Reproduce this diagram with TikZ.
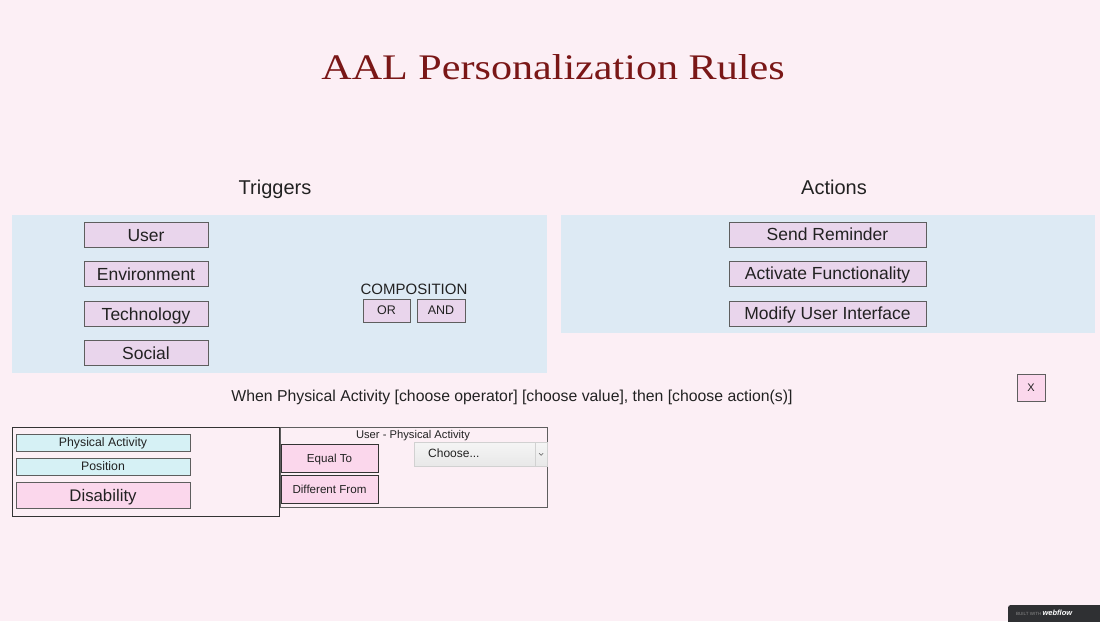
\documentclass[tikz,border=0pt]{standalone}
\usepackage{fontspec}
\usepackage{graphicx}
\setmainfont{Liberation Sans}
\newfontfamily\titlefont{Liberation Serif}
\newcommand\fsz[1]{\fontsize{#1}{#1}\selectfont}
\definecolor{pagebg}{HTML}{FCEFF5}
\definecolor{panelblue}{HTML}{DDEAF4}
\definecolor{lilac}{HTML}{E9D5EC}
\definecolor{pinkbtn}{HTML}{FBD7EC}
\definecolor{cyanbtn}{HTML}{D6F1F5}
\definecolor{edgegray}{HTML}{5E5E5E}
\definecolor{edgedark}{HTML}{333333}
\definecolor{inktext}{HTML}{222222}
\definecolor{titlered}{HTML}{7A1717}
\definecolor{badge}{HTML}{2F3033}
\tikzset{
  % font size with the box centred on the capital height
  fs/.style={font=\fsz{#1}, text height={0.716*#1}, text depth=0pt},
  panel/.style={fill=panelblue, draw=none, anchor=north west, inner sep=0pt},
  bigbtn/.style={draw=edgegray, line width=1pt, fill=lilac, inner sep=0pt,
    text=inktext, fs=17.5},
  smallbtn/.style={draw=edgegray, line width=1pt, fill=lilac, inner sep=0pt,
    text=inktext, fs=12.5},
  attr/.style={draw=edgegray, line width=0.9pt, fill=cyanbtn, inner sep=0pt,
    minimum width=174, minimum height=17, text=inktext, fs=12.3},
  opbtn/.style={draw=edgedark, line width=0.9pt, fill=pinkbtn, inner sep=0pt,
    minimum width=97, minimum height=28, text=inktext, fs=11.6},
  heading/.style={text=inktext, inner sep=0pt, fs=20},
  frame/.style={draw=#1, line width=0.9pt, fill=none, anchor=north west, inner sep=0pt},
}
\begin{document}
\begin{tikzpicture}[x=1pt,y=-1pt]
  \useasboundingbox (0,0) rectangle (1100,621);
  \fill[pagebg] (0,0) rectangle (1100,621);

  % title
  \node[text=titlered, anchor=base, inner sep=0pt] (title) at (553,79)
    {\titlefont\fsz{36}\scalebox{1.17}[1]{AAL Personalization Rules}};

  % section headings
  \node[heading] (trighead) at (275,187) {Triggers};
  \node[heading] (acthead) at (834,187) {Actions};

  % panels
  \node[panel, minimum width=535, minimum height=158] (trigpanel) at (12,215) {};
  \node[panel, minimum width=534, minimum height=118] (actpanel) at (561,215) {};

  % trigger categories
  \node[bigbtn, minimum width=124, minimum height=25] (user) at (146,235) {User};
  \node[bigbtn, minimum width=124, minimum height=25] (env) at (146,274) {Environment};
  \node[bigbtn, minimum width=124, minimum height=25] (tech) at (146,314) {Technology};
  \node[bigbtn, minimum width=124, minimum height=25] (social) at (146,353) {Social};

  % composition operators
  \node[text=inktext, inner sep=0pt, fs=15] (comp) at (414,289) {COMPOSITION};
  \node[smallbtn, minimum width=47, minimum height=23] (or) at (386.5,310.5) {OR};
  \node[smallbtn, minimum width=48, minimum height=23] (and) at (441,310.5) {AND};

  % actions
  \node[bigbtn, minimum width=197, minimum height=25] (remind) at (827.5,234.5) {Send Reminder};
  \node[bigbtn, minimum width=197, minimum height=25] (activate) at (827.5,273.5) {Activate Functionality};
  \node[bigbtn, minimum width=197, minimum height=25] (modify) at (827.5,313.5) {Modify User Interface};

  % rule sentence and close button
  \node[text=inktext, inner sep=0pt, fs=15.8] (rule) at (512,396)
    {When Physical Activity [choose operator] [choose value], then [choose action(s)]};
  \node[draw=edgegray, line width=0.9pt, fill=pinkbtn, minimum width=28, minimum height=27,
    inner sep=0pt, text=inktext, fs=11] (close) at (1031,387.5) {X};

  % attribute list
  \node[frame=edgedark, minimum width=267, minimum height=89] (attrbox) at (12,427) {};
  \node[attr] (phys) at (103,442.5) {Physical Activity};
  \node[attr] (pos) at (103,466.5) {Position};
  \node[draw=edgegray, line width=0.9pt, fill=pinkbtn, inner sep=0pt, minimum width=174,
    minimum height=26, text=inktext, fs=16.8] (dis) at (103,495) {Disability};

  % operator panel
  \node[frame=edgegray, minimum width=267, minimum height=80] (opbox) at (280,427) {};
  \node[text=inktext, inner sep=0pt, fs=11.2] (ophead) at (413,434.5) {User - Physical Activity};
  \node[opbtn] (eq) at (329.5,458) {Equal To};
  \node[opbtn] (neq) at (329.5,489) {Different From};

  % value drop-down
  \node[draw=black!18, line width=0.6pt, top color=black!4, bottom color=black!9,
    anchor=north west, minimum width=133, minimum height=24, inner sep=0pt] (choose) at (414,442) {};
  \node[text=inktext, inner sep=0pt, anchor=west, fs=12] (choosetxt) at (428,453) {Choose...};
  \draw[black!18, line width=0.6pt] ([xshift=-12]choose.north east) -- ([xshift=-12]choose.south east);
  \draw[black!55, line width=0.7pt] ([xshift=-8.5,yshift=1]choose.east) -- ([xshift=-6.5,yshift=-1]choose.east)
    -- ([xshift=-4.5,yshift=1]choose.east);

  % footer badge
  \node[fill=badge, rounded corners=2pt, anchor=north west, minimum width=96, minimum height=20,
    inner sep=0pt] (badgebox) at (1008,605) {};
  \node[inner sep=0pt, anchor=west] (badgetxt) at (1016,613)
    {\fsz{4.5}\color{black!45}BUILT WITH \fsz{7.5}\color{white}\textbf{\textit{webflow}}};
\end{tikzpicture}
\end{document}
